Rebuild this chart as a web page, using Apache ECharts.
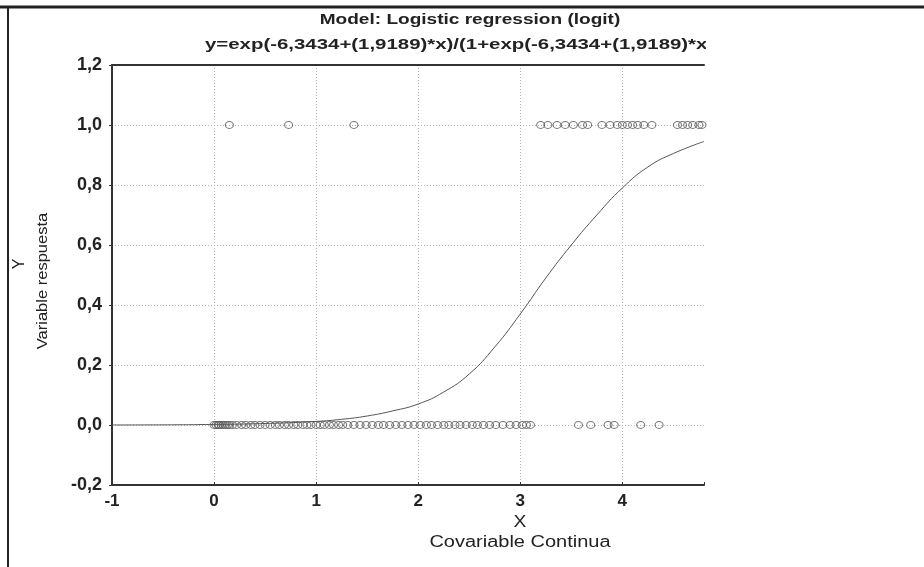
<!DOCTYPE html>
<html>
<head>
<meta charset="utf-8">
<script src="https://cdn.jsdelivr.net/npm/echarts@6/dist/echarts.min.js"></script>
<style>html,body{margin:0;padding:0;background:#fff}#c{width:924px;height:567px}</style>
</head>
<body>
<div id="c"></div>
<script>
var titleLines = ['Model: Logistic regression (logit)', 'y=exp(-6,3434+(1,9189)*x)/(1+exp(-6,3434+(1,9189)*x))'];
var xAxisTitle = ['X', 'Covariable Continua'];
var yAxisTitle = ['Y', 'Variable respuesta'];
var xTicks = [-1, 0, 1, 2, 3, 4];
var yTicks = [-0.2, 0, 0.2, 0.4, 0.6, 0.8, 1.0, 1.2];

// observed responses = 1
var onesX = [0.15, 0.73, 1.37, 3.20, 3.27, 3.36, 3.44, 3.52, 3.61, 3.66, 3.80, 3.88, 3.95, 4.00, 4.05, 4.10, 4.15, 4.21, 4.29, 4.54, 4.59, 4.64, 4.69, 4.75, 4.78];
// observed responses = 0
var zerosX = [0.00, 0.02, 0.04, 0.05, 0.07, 0.09, 0.11, 0.13, 0.15, 0.18, 0.22, 0.27, 0.31, 0.36, 0.40, 0.45, 0.50, 0.55, 0.60, 0.64, 0.69, 0.73, 0.78, 0.82, 0.87, 0.91, 0.95, 1.00, 1.04, 1.08, 1.13, 1.17, 1.22, 1.26, 1.31, 1.37, 1.43, 1.49, 1.55, 1.61, 1.66, 1.72, 1.78, 1.84, 1.90, 1.96, 2.02, 2.08, 2.13, 2.19, 2.25, 2.30, 2.36, 2.41, 2.47, 2.53, 2.58, 2.64, 2.70, 2.76, 2.83, 2.90, 2.96, 3.02, 3.06, 3.10, 3.57, 3.69, 3.86, 3.92, 4.18, 4.36];
// fitted logistic curve
var curveX = [-1.0, -0.5, 0.0, 0.5, 1.0, 1.25, 1.5, 1.75, 2.0, 2.25, 2.5, 2.75, 3.0, 3.25, 3.5, 3.75, 4.0, 4.25, 4.5, 4.8];
var curveY = [0.0001, 0.0005, 0.002, 0.005, 0.012, 0.019, 0.030, 0.047, 0.070, 0.11, 0.17, 0.26, 0.37, 0.49, 0.60, 0.70, 0.79, 0.86, 0.905, 0.945];

var ones = onesX.map(function (x) { return [x, 1]; });
var zeros = zerosX.map(function (x) { return [x, 0]; });
var curve = curveX.map(function (x, i) { return [x, curveY[i]]; });

var FONT = 'Liberation Sans, Arial, sans-serif';
var chart = echarts.init(document.getElementById('c'), null, {renderer: 'canvas'});
var gridLine = {show: true, showMaxLine: false, lineStyle: {color: '#b5b5b5', type: [1, 2], width: 1}};
var axLine = {show: true, onZero: false, lineStyle: {color: '#333', width: 2}};

chart.setOption({
  animation: false,
  backgroundColor: '#fff',
  grid: {left: 112, top: 65, right: 220, bottom: 82, containLabel: false},
  xAxis: [{
    type: 'value', min: xTicks[0], max: 4.8, interval: 1,
    axisLine: axLine,
    axisTick: {show: true, inside: true, length: 3, lineStyle: {color: '#333'}},
    splitLine: gridLine,
    axisLabel: {
      color: '#222', fontFamily: FONT, fontWeight: 'bold', fontSize: 17, margin: 8,
      formatter: function (v) { return xTicks.indexOf(Math.round(v * 1000) / 1000) >= 0 ? String(v) : ''; }
    }
  }, {
    type: 'value', position: 'top', min: xTicks[0], max: 4.8, interval: 1,
    axisLine: axLine, axisTick: {show: false}, axisLabel: {show: false}, splitLine: {show: false}
  }],
  yAxis: [{
    type: 'value', min: yTicks[0], max: yTicks[yTicks.length - 1], interval: 0.2,
    axisLine: axLine,
    axisTick: {show: true, length: 3, lineStyle: {color: '#333'}},
    splitLine: {show: true, lineStyle: {color: '#b5b5b5', type: [1, 2], width: 1}},
    axisLabel: {
      color: '#222', fontFamily: FONT, fontWeight: 'bold', fontSize: 18, margin: 10,
      formatter: function (v) { return v.toFixed(1).replace('.', ','); }
    }
  }],
  series: [{
    type: 'line', data: curve, smooth: true, showSymbol: false,
    lineStyle: {color: '#555', width: 1}, z: 2
  }, {
    type: 'scatter', data: zeros, symbol: 'circle', symbolSize: [8, 7],
    itemStyle: {color: 'rgba(255,255,255,0)', borderColor: '#555', borderWidth: 1}, z: 3
  }, {
    type: 'scatter', data: ones, symbol: 'circle', symbolSize: [8, 7],
    itemStyle: {color: 'rgba(255,255,255,0)', borderColor: '#555', borderWidth: 1}, z: 3
  }],
  graphic: [
    {type: 'text', x: 205, y: 45, scaleX: 1.36, z: 10, style: {text: titleLines[1], font: 'bold 15px ' + FONT, fill: '#222', align: 'left', verticalAlign: 'middle'}},
    {type: 'text', x: 470, y: 20, scaleX: 1.27, z: 10, style: {text: titleLines[0], font: 'bold 15px ' + FONT, fill: '#222', align: 'center', verticalAlign: 'middle'}},
    {type: 'rect', x: 706, y: 10, z: 20, shape: {width: 218, height: 50}, style: {fill: '#fff'}},
    {type: 'line', z: 30, shape: {x1: 0, y1: 7, x2: 924, y2: 7}, style: {stroke: '#222', lineWidth: 3}},
    {type: 'line', z: 30, shape: {x1: 8, y1: 6, x2: 8, y2: 567}, style: {stroke: '#222', lineWidth: 2}},
    {type: 'text', z: 10, x: 520, y: 523, scaleX: 1.2, style: {text: xAxisTitle[0], font: '16px ' + FONT, fill: '#222', align: 'center', verticalAlign: 'middle'}},
    {type: 'text', z: 10, x: 520, y: 543, scaleX: 1.25, style: {text: xAxisTitle[1], font: '16px ' + FONT, fill: '#222', align: 'center', verticalAlign: 'middle'}},
    {type: 'text', z: 10, x: 20, y: 264, rotation: Math.PI / 2, style: {text: yAxisTitle[0], font: '16px ' + FONT, fill: '#222', align: 'center', verticalAlign: 'middle'}},
    {type: 'text', z: 10, x: 43, y: 281, rotation: Math.PI / 2, scaleX: 1.1, style: {text: yAxisTitle[1], font: '15px ' + FONT, fill: '#222', align: 'center', verticalAlign: 'middle'}}
  ]
});
</script>
</body>
</html>
